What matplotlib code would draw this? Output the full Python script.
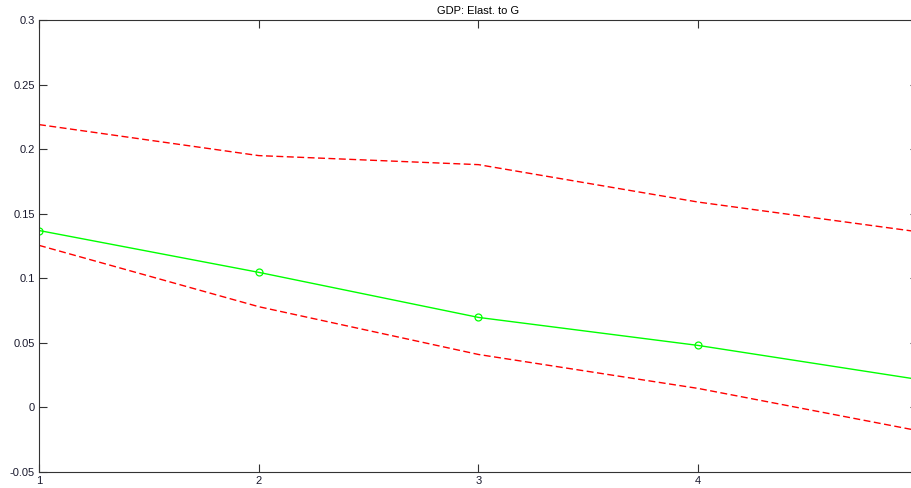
import matplotlib
matplotlib.use("Agg")
import matplotlib.pyplot as plt

x = [1, 2, 3, 4, 5]
median = [0.137, 0.1046, 0.0697, 0.048, 0.0217]
upper = [0.219, 0.195, 0.188, 0.159, 0.136]
lower = [0.1255, 0.078, 0.041, 0.0147, -0.018]
yticks = [-0.05, 0, 0.05, 0.1, 0.15, 0.2, 0.25, 0.3]
ytick_labels = ["-0.05", "0", "0.05", "0.1", "0.15", "0.2", "0.25", "0.3"]
xticks = [1, 2, 3, 4]

plt.rcParams['font.family'] = ['Liberation Sans', 'DejaVu Sans']

fig = plt.figure(figsize=(9.12, 4.88), dpi=100)
ax = fig.add_axes([39/912, 16/488, 879/912, 452/488])

ax.plot(x, upper, color=(1, 0, 0), lw=1.0, dashes=(5, 2.5))
ax.plot(x, lower, color=(1, 0, 0), lw=1.0, dashes=(5, 2.5))
ax.plot(x, median, color=(0, 1, 0), lw=1.0, marker='o', markersize=5,
        markerfacecolor='none', markeredgecolor=(0, 1, 0), markeredgewidth=0.9)

ax.set_xlim(1, 5)
ax.set_ylim(-0.05, 0.3)
ax.set_xticks(xticks)
ax.set_xticklabels([str(v) for v in xticks])
ax.set_yticks(yticks)
ax.set_yticklabels(ytick_labels)
ax.tick_params(direction='in', length=6, width=0.8, colors='#333333',
               labelsize=8, top=True, right=True, labelcolor='#1a1a2e', pad=3)
for s in ax.spines.values():
    s.set_color('#333333')
    s.set_linewidth(0.8)
ax.set_title('GDP: Elast. to G', fontsize=8, pad=4)

fig.savefig('out.png', dpi=100)
